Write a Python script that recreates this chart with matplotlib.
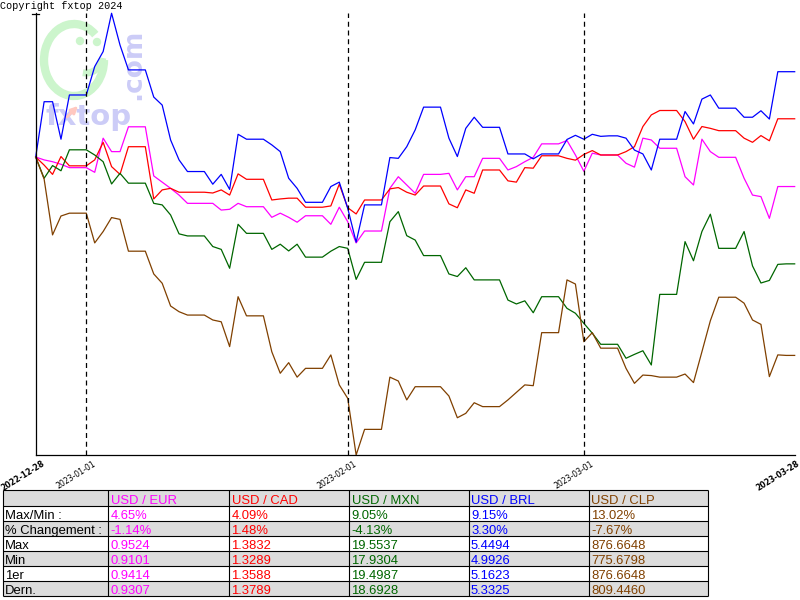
import matplotlib
matplotlib.use("Agg")
import matplotlib.pyplot as plt
from matplotlib.patches import Rectangle, Arc, Circle

# % change vs first day, one value per calendar day (91 days)
days = list(range(91))

usd_eur = [0, -0.11, -0.18, -0.28, -0.41, -0.41, -0.41, -0.59, 0.73, 0.21,
           0.21, 1.17, 1.17, 1.17, -0.73, -0.97, -1.21, -1.47, -1.79, -1.79,
           -1.79, -1.79, -2.05, -2.02, -1.79, -1.92, -1.92, -1.92, -2.33, -2.17,
           -2.33, -2.52, -2.27, -2.27, -2.27, -2.60, -1.94, -2.50, -3.32, -2.86,
           -2.86, -2.86, -1.21, -0.76, -1.08, -1.40, -0.67, -0.67, -0.67, -0.63,
           -1.27, -0.76, -0.76, -0.05, -0.05, -0.05, -0.50, -0.37, -0.18, -0.01,
           0.51, 0.51, 0.51, 0.64, 0.08, -0.55, 0.15, 0.08, 0.08, 0.08,
           -0.24, -0.39, 0.73, 0.66, 0.34, 0.34, 0.34, -0.76, -1.08, 0.69,
           0.21, -0.01, -0.01, -0.01, -0.82, -1.47, -1.53, -2.37, -1.14, -1.14,
           -1.14]

usd_cad = [0, -0.31, -0.67, 0.02, -0.34, -0.34, -0.34, -0.11, 0.57, -0.37,
           -0.67, 0.40, 0.40, 0.40, -1.62, -1.27, -1.21, -1.36, -1.36, -1.36,
           -1.36, -1.39, -1.27, -1.47, -0.65, -0.86, -0.86, -0.86, -1.66, -1.62,
           -1.59, -1.59, -1.94, -1.94, -1.94, -1.89, -1.05, -1.96, -2.20, -1.66,
           -1.66, -1.66, -1.23, -1.18, -1.36, -1.47, -1.12, -1.12, -1.12, -1.81,
           -1.96, -1.27, -1.40, -0.50, -0.50, -0.50, -0.92, -0.97, -0.41, -0.43,
           0.05, 0.05, 0.05, -0.05, -0.12, 0.10, 0.25, 0.08, 0.08, 0.08,
           0.21, 0.40, 1.18, 1.63, 1.80, 1.80, 1.80, 1.37, 0.69, 1.18,
           1.11, 1.02, 1.02, 1.02, 0.73, 0.57, 0.83, 0.63, 1.48, 1.48,
           1.48]

usd_mxn = [0, -0.82, -0.33, -0.53, 0.28, 0.28, 0.28, 0.08, -0.18, -1.04,
           -0.63, -1.01, -1.01, -1.01, -1.79, -1.85, -2.24, -2.97, -3.05, -3.05,
           -3.05, -3.46, -3.57, -4.30, -2.60, -2.95, -2.95, -2.95, -3.57, -3.37,
           -3.63, -3.37, -3.87, -3.87, -3.87, -3.64, -3.46, -3.53, -4.73, -4.07,
           -4.07, -4.07, -2.50, -2.11, -3.04, -3.21, -3.81, -3.81, -3.81, -4.52,
           -4.62, -4.28, -4.75, -4.75, -4.75, -4.75, -5.53, -5.68, -5.56, -6.02,
           -5.40, -5.40, -5.40, -5.85, -6.04, -6.43, -6.81, -7.24, -7.24, -7.24,
           -7.78, -7.63, -7.49, -8.04, -5.31, -5.31, -5.31, -3.27, -4.01, -2.88,
           -2.21, -3.53, -3.53, -3.53, -2.88, -4.21, -4.87, -4.77, -4.15, -4.13,
           -4.13]

usd_brl = [0, 2.14, 2.14, 0.69, 2.40, 2.40, 2.40, 3.50, 4.08, 5.56,
           4.33, 3.37, 3.37, 3.37, 2.32, 2.01, 0.66, -0.11, -0.56, -0.56,
           -0.56, -1.05, -0.67, -1.25, 0.88, 0.69, 0.69, 0.69, 0.47, 0.21,
           -0.82, -1.21, -1.75, -1.75, -1.75, -1.14, -0.97, -1.98, -3.29, -1.85,
           -1.85, -1.85, -0.02, -0.05, 0.40, 1.05, 1.93, 1.93, 1.93, 0.73,
           0.02, 1.11, 1.54, 1.15, 1.15, 1.15, 0.12, 0.12, 0.12, -0.07,
           0.12, 0.12, 0.12, 0.68, 0.84, 0.69, 0.88, 0.80, 0.82, 0.82,
           0.73, 0.27, 0.12, -0.50, 0.69, 0.69, 0.69, 1.76, 1.28, 2.24,
           2.40, 1.89, 1.89, 1.89, 1.54, 1.54, 1.79, 1.47, 3.30, 3.30,
           3.30]

usd_clp = [0, -0.85, -3.01, -2.28, -2.17, -2.17, -2.17, -3.32, -2.88, -2.34,
           -2.41, -3.64, -3.64, -3.64, -4.52, -4.88, -5.76, -5.98, -6.11, -6.11,
           -6.11, -6.30, -6.37, -7.33, -5.40, -6.14, -6.14, -6.14, -7.53, -8.36,
           -7.95, -8.51, -8.17, -8.17, -8.17, -7.65, -8.81, -9.33, -11.52, -10.53,
           -10.53, -10.53, -8.51, -8.66, -9.39, -8.88, -8.88, -8.88, -8.88, -9.24,
           -10.08, -9.91, -9.50, -9.65, -9.65, -9.65, -9.39, -9.10, -8.81, -8.84,
           -6.79, -6.79, -6.79, -4.75, -4.91, -7.14, -6.79, -7.39, -7.39, -7.39,
           -8.17, -8.75, -8.43, -8.45, -8.51, -8.51, -8.51, -8.39, -8.72, -7.53,
           -6.33, -5.42, -5.42, -5.42, -5.65, -6.30, -6.47, -8.49, -7.65, -7.67,
           -7.67]

month_days = [6, 37, 65]
tick_days = [0, 6, 37, 65, 90]
tick_labels = ["2022-12-28", "2023-01-01", "2023-02-01", "2023-03-01", "2023-03-28"]
tick_bold = [True, False, False, False, True]

pairs = ["USD / EUR", "USD / CAD", "USD / MXN", "USD / BRL", "USD / CLP"]
colors = ["#ff00ff", "#ff0000", "#006600", "#0000ff", "#804000"]
row_labels = ["Max/Min :", "% Changement :", "Max", "Min", "1er", "Dern."]
maxmin = ["4.65%", "4.09%", "9.05%", "9.15%", "13.02%"]
change = ["-1.14%", "1.48%", "-4.13%", "3.30%", "-7.67%"]
maxs = ["0.9524", "1.3832", "19.5537", "5.4494", "876.6648"]
mins = ["0.9101", "1.3289", "17.9304", "4.9926", "775.6798"]
firsts = ["0.9414", "1.3588", "19.4987", "5.1623", "876.6648"]
lasts = ["0.9307", "1.3789", "18.6928", "5.3325", "809.4460"]

fig = plt.figure(figsize=(8, 6), dpi=100)

# background layer in pixel coordinates: watermark, copyright, table
bg = fig.add_axes([0, 0, 1, 1], zorder=0)
bg.set_xlim(0, 800)
bg.set_ylim(600, 0)
bg.axis("off")

green_logo = "#ccf5cc"
blue_logo = "#ccccf7"
bg.add_patch(Arc((74, 60), 60, 72, theta1=0, theta2=310, color=green_logo, lw=6))
bg.add_patch(Arc((86, 55), 34, 36, theta1=10, theta2=100, color=green_logo, lw=5))
bg.add_patch(Circle((80, 41), 3.5, color=green_logo))
bg.add_patch(Circle((97, 42), 3.5, color=green_logo))
bg.text(46, 125, "fxtop", color=blue_logo, fontsize=21, fontweight="bold",
        family="DejaVu Sans", va="baseline", ha="left")
bg.text(120, 100, ".com", color=blue_logo, fontsize=19, fontweight="bold",
        family="DejaVu Sans", rotation=90, va="bottom", ha="left")
bg.annotate("", xy=(80, 104), xytext=(65, 119),
            arrowprops=dict(arrowstyle="-|>", color="#ffc8c0", lw=2))

bg.text(0, 1, "Copyright fxtop 2024", fontsize=7.3, family="Liberation Mono",
        va="top", ha="left")
bg.plot([32, 39], [14, 14], color="black", lw=0.9)

# table
col_edges = [3.3, 108.3, 229, 349, 468.5, 588.5, 708.3]
row_edges = [490, 506, 521, 536, 551, 566, 581, 596]
for i in range(len(row_edges) - 1):
    if i % 2 == 0:
        bg.add_patch(Rectangle((col_edges[0], row_edges[i]),
                               col_edges[-1] - col_edges[0],
                               row_edges[i + 1] - row_edges[i],
                               facecolor="#dcdcdc", edgecolor="none"))
bg.hlines(row_edges, col_edges[0], col_edges[-1], color="black", lw=0.8)
bg.vlines(col_edges, row_edges[0], row_edges[-1], color="black", lw=0.8)

tfont = dict(fontsize=9.4, family="Liberation Sans", va="baseline", ha="left")
for j, p in enumerate(pairs):
    bg.text(col_edges[j + 1] + 2.5, row_edges[1] - 2, p, color=colors[j], **tfont)
rows = [maxmin, change, maxs, mins, firsts, lasts]
for i, (lab, vals) in enumerate(zip(row_labels, rows)):
    yb = row_edges[i + 2] - 2
    bg.text(col_edges[0] + 2, yb, lab, color="black", **tfont)
    for j, v in enumerate(vals):
        bg.text(col_edges[j + 1] + 2.5, yb, v, color=colors[j], **tfont)

# chart
ax = fig.add_axes([0.0446, 0.2417, 0.94875, 0.7362], zorder=1)
ax.patch.set_alpha(0)

for vals, c in zip([usd_eur, usd_cad, usd_mxn, usd_brl, usd_clp], colors):
    ax.plot(days, vals, color=c, lw=0.9, clip_on=False)

for d in month_days:
    ax.axvline(d, color="black", lw=0.9, ls=(0, (4, 3)))

ax.set_xlim(0, 90)
ax.set_ylim(-11.52, 5.56)
ax.spines["top"].set_visible(False)
ax.spines["right"].set_visible(False)
ax.spines["left"].set_linewidth(0.9)
ax.spines["bottom"].set_linewidth(0.9)
ax.set_xticks([])
ax.set_yticks([])

for d, lab, b in zip(tick_days, tick_labels, tick_bold):
    dx = 1.5 if d == tick_days[-1] else 4.5
    ax.annotate(lab, xy=(d, 0), xycoords=("data", "axes fraction"),
                xytext=(dx, -3), textcoords="offset points",
                rotation=32, rotation_mode="anchor", ha="right", va="top",
                fontsize=5.6, fontweight="bold" if b else "normal",
                annotation_clip=False)

fig.savefig("out.png", dpi=100)
